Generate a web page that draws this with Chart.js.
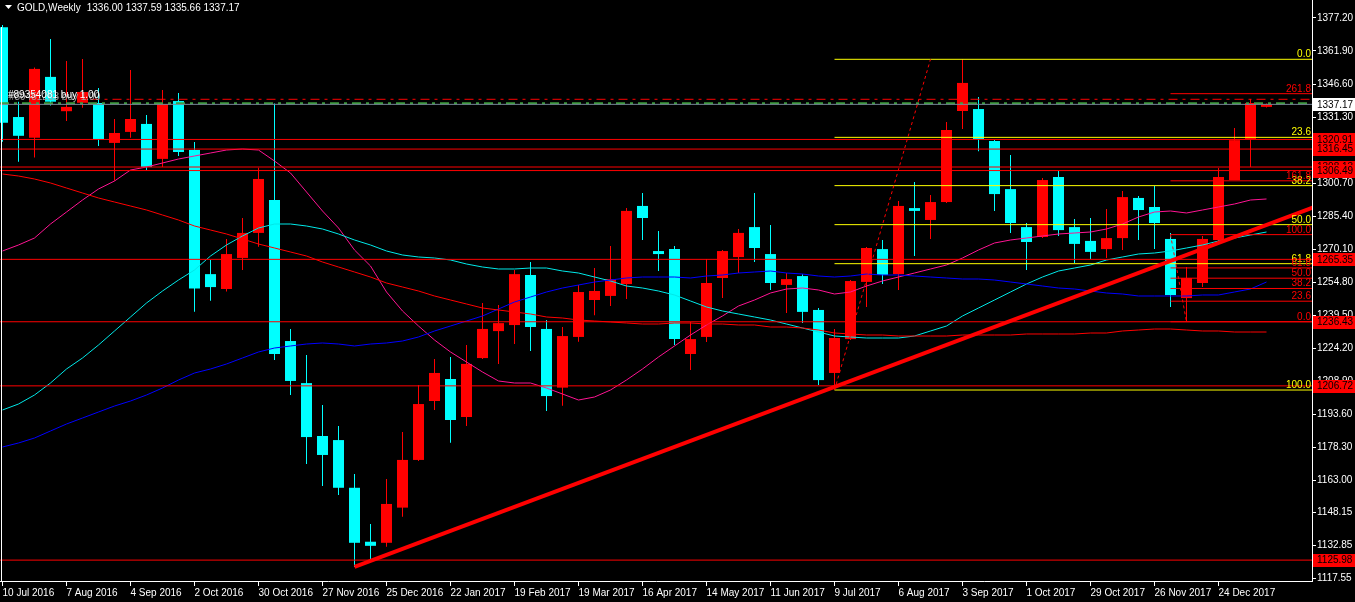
<!DOCTYPE html>
<html>
<head>
<meta charset="utf-8">
<script src="https://cdn.jsdelivr.net/npm/chart.js@4.4.1/dist/chart.umd.min.js"></script>
<style>
html,body{margin:0;padding:0;background:#000;overflow:hidden;}
canvas{display:block;}
</style>
</head>
<body>
<canvas id="chart" width="1355" height="602"></canvas>
<script>
const FONT_FAMILY = '"Liberation Sans Narrow","Liberation Sans","DejaVu Sans",sans-serif';
const FONT_SIZE = 10;

// ---- category / tick labels ----
const dateLabels = ['10 Jul 2016','7 Aug 2016','4 Sep 2016','2 Oct 2016','30 Oct 2016','27 Nov 2016','25 Dec 2016','22 Jan 2017','19 Feb 2017','19 Mar 2017','16 Apr 2017','14 May 2017','11 Jun 2017','9 Jul 2017','6 Aug 2017','3 Sep 2017','1 Oct 2017','29 Oct 2017','26 Nov 2017','24 Dec 2017'];
const dateTickBars = [0,4,8,12,16,20,24,28,32,36,40,44,48,52,56,60,64,68,72,76];
const priceTicks = [1377.20,1361.90,1346.60,1331.30,1316.00,1300.70,1285.40,1270.10,1254.80,1239.50,1224.20,1208.90,1193.60,1178.30,1163.00,1148.15,1132.85,1117.55];

// ---- weekly OHLC (bar 0 = week of 10 Jul 2016) ----
const opens = [1372.9,1331.3,1321.7,1349.9,1334.0,1337.9,1337.8,1319.3,1324.4,1328.1,
1311.9,1338.7,1316.0,1258.5,1251.6,1266.0,1277.6,1292.9,1227.5,1208.0,
1183.5,1181.6,1159.5,1134.5,1134.0,1150.3,1172.4,1199.7,1209.9,1192.3,
1219.6,1232.1,1234.9,1258.1,1233.1,1205.9,1229.4,1246.5,1248.4,1253.9,
1290.1,1269.2,1270.1,1221.5,1229.4,1256.7,1266.4,1280.3,1267.8,1253.5,
1257.6,1241.9,1212.7,1228.4,1254.9,1270.1,1258.5,1289.1,1283.6,1291.9,
1334.1,1335.0,1320.2,1297.9,1280.3,1275.7,1303.5,1280.3,1273.9,1270.1,
1275.2,1293.8,1289.6,1274.8,1247.4,1254.4,1274.3,1302.1,1321.1,1336.00];
const highs = [1373.9,1338.4,1354.2,1367.5,1357.3,1358.2,1344.7,1330.4,1353.1,1332.2,
1343.8,1342.4,1319.7,1265.0,1274.8,1284.5,1307.8,1337.6,1233.1,1221.0,
1197.9,1188.1,1165.9,1142.7,1163.6,1185.3,1207.1,1219.2,1220.1,1225.7,
1245.1,1244.2,1260.4,1264.1,1237.2,1234.0,1253.5,1261.3,1271.5,1289.1,
1296.1,1278.5,1271.5,1236.3,1265.5,1269.7,1279.4,1296.1,1281.3,1259.0,
1258.5,1242.8,1233.1,1255.8,1271.1,1274.3,1292.4,1301.2,1295.2,1329.0,
1358.05,1340.6,1320.6,1313.7,1282.2,1303.0,1306.3,1284.0,1284.5,1288.7,
1297.0,1294.7,1299.3,1277.6,1261.8,1276.2,1307.7,1326.2,1339.7,1337.59];
const lows = [1319.9,1310.6,1312.5,1336.6,1329.5,1335.6,1317.9,1301.8,1321.7,1306.8,
1308.1,1313.2,1241.1,1246.2,1250.4,1260.4,1271.2,1218.7,1202.5,1170.5,
1160.3,1156.1,1122.8,1126.0,1132.2,1146.1,1171.9,1195.5,1180.4,1188.1,
1219.2,1216.9,1226.1,1222.9,1195.1,1197.5,1227.2,1239.5,1243.7,1247.0,
1274.3,1259.9,1225.7,1214.1,1227.0,1247.4,1259.0,1264.1,1251.1,1240.5,
1235.9,1207.1,1204.8,1228.0,1243.3,1253.9,1251.1,1266.9,1274.8,1291.5,
1325.8,1315.5,1287.8,1277.6,1260.4,1275.2,1276.2,1263.7,1265.5,1266.0,
1269.7,1274.3,1270.1,1243.3,1236.43,1252.5,1273.4,1302.1,1308.1,1335.66];
const closes = [1328.7,1322.6,1353.6,1338.4,1336.0,1342.9,1321.1,1323.9,1330.4,1308.1,
1337.3,1315.1,1251.8,1252.5,1267.8,1277.6,1302.6,1221.5,1209.0,1183.0,
1174.7,1159.5,1134.0,1132.6,1152.0,1172.4,1198.3,1212.7,1190.9,1216.9,
1233.1,1235.8,1258.5,1234.0,1202.0,1229.8,1250.2,1250.7,1256.2,1287.8,
1284.5,1267.8,1228.4,1228.4,1254.4,1269.2,1277.6,1270.6,1254.4,1256.2,
1241.0,1209.4,1228.9,1255.3,1270.6,1258.1,1290.1,1287.8,1291.9,1325.3,
1347.1,1321.1,1295.6,1282.2,1273.4,1302.1,1278.9,1272.5,1268.8,1275.2,
1294.2,1288.2,1282.2,1248.8,1256.7,1274.8,1303.5,1320.6,1337.8,1337.17];

// ---- moving averages (read per bar) ----
const maPink = [1269.22,1272.00,1275.24,1281.73,1287.29,1292.85,1297.95,1301.66,1306.75,1308.14,
1310.00,1311.85,1313.24,1314.63,1316.02,1316.48,1316.02,1310.92,1305.36,1296.56,
1287.75,1279.88,1269.68,1262.27,1250.22,1241.42,1234.46,1227.98,1222.42,1217.78,
1213.15,1208.98,1208.05,1208.05,1205.73,1202.95,1200.17,1201.56,1204.81,1209.44,
1214.54,1220.10,1225.20,1230.29,1234.93,1239.10,1243.73,1246.51,1249.76,1251.61,
1252.07,1251.15,1249.29,1250.22,1253.00,1255.32,1257.17,1259.02,1260.88,1262.73,
1265.98,1269.68,1272.93,1274.32,1275.24,1276.17,1277.10,1277.56,1278.02,1279.41,
1281.73,1284.97,1287.29,1287.75,1286.83,1288.22,1289.61,1291.00,1292.85,1293.32];
const maCyan = [1195.54,1198.32,1202.49,1208.05,1214.54,1219.64,1225.66,1232.15,1238.64,1245.12,
1250.68,1255.78,1260.41,1266.90,1272.00,1276.17,1279.88,1281.73,1281.73,1280.80,
1279.41,1277.10,1274.32,1272.00,1269.22,1267.37,1266.44,1265.98,1265.05,1263.19,
1261.80,1260.88,1260.88,1261.34,1261.34,1259.95,1259.02,1257.17,1255.32,1253.00,
1252.07,1250.68,1248.83,1246.05,1243.27,1241.42,1240.03,1238.64,1237.24,1235.39,
1233.54,1231.68,1229.83,1229.37,1228.90,1228.90,1228.90,1229.83,1232.15,1234.46,
1239.10,1242.80,1246.51,1250.22,1253.93,1257.17,1259.95,1261.34,1262.73,1265.05,
1266.44,1267.83,1268.29,1269.22,1270.61,1272.00,1273.85,1275.24,1276.63,1278.02];
const maRed = [1304.90,1303.97,1302.58,1300.73,1298.41,1296.10,1293.78,1291.92,1290.07,1288.22,
1285.90,1283.58,1280.80,1278.95,1277.10,1274.78,1272.46,1270.61,1268.76,1266.90,
1264.12,1261.80,1259.49,1257.17,1254.39,1252.54,1250.68,1248.37,1246.51,1244.66,
1242.80,1241.88,1240.95,1240.03,1238.64,1238.17,1237.24,1236.78,1236.32,1235.86,
1235.39,1235.39,1235.86,1235.86,1235.39,1235.39,1234.93,1234.93,1234.00,1234.00,
1233.54,1232.61,1231.22,1230.76,1230.29,1230.29,1229.83,1229.83,1229.83,1229.83,
1230.29,1230.29,1230.29,1230.29,1230.76,1230.76,1230.76,1230.76,1231.22,1231.22,
1232.15,1232.61,1233.07,1233.07,1232.61,1232.15,1232.15,1231.68,1231.68,1231.68];
const maBlue = [1178.39,1180.25,1182.56,1185.81,1189.05,1191.83,1194.61,1197.39,1199.71,1202.49,
1205.73,1209.44,1212.68,1214.54,1216.86,1219.64,1222.42,1224.27,1225.20,1226.12,
1226.59,1226.12,1225.20,1226.12,1226.59,1227.51,1229.37,1232.15,1234.46,1236.78,
1239.10,1242.34,1245.59,1247.90,1250.22,1252.07,1253.46,1254.85,1255.78,1256.71,
1257.17,1257.17,1257.17,1256.71,1257.63,1258.10,1259.02,1259.49,1259.95,1259.02,
1258.56,1257.63,1257.17,1257.63,1258.56,1258.10,1258.10,1257.63,1257.17,1256.71,
1256.24,1256.24,1255.78,1254.85,1253.93,1253.00,1252.07,1251.61,1250.68,1249.76,
1249.29,1248.37,1248.37,1248.37,1248.37,1248.83,1248.83,1250.22,1251.61,1254.85];

// ---- drawn objects ----
const hLinePrices = [1320.91,1316.45,1308.13,1306.49,1265.35,1236.43,1206.72,1125.98];
const bidPrice = 1337.17;
const orderPrice = 1337.66;
const askDashPrice = 1339.52;
const fib1Levels = [0.0,23.6,38.2,50.0,61.8,100.0];
const fib1Prices = [1358.05,1321.88,1299.51,1281.43,1263.34,1204.80];
const fib2Levels = [0.0,23.6,38.2,50.0,61.8,100.0,161.8,261.8];
const fib2Prices = [1236.43,1245.96,1251.85,1256.62,1261.38,1276.80,1301.75,1342.12];
const fibStartBars = [52,73];
const fib1RayBars = [52,58], fib1RayPrices = [1204.80,1358.05];
const fib2RayBars = [73,74], fib2RayPrices = [1276.80,1236.43];
const trendBars = [22,82], trendPrices = [1122.9,1289.6];

// ---- scale extents ----
const X_MIN = -0.15625, X_MAX = 81.84375;
const Y_MIN = 1116.30, Y_MAX = 1385.53;

const bars = opens.map((_, i) => i);
const candleColors = bars.map(i => closes[i] >= opens[i] ? '#FF0000' : '#00FFFF');

function levelLine(x0, x1, p, color, width, dash, order) {
  return { type:'line', data:[{x:x0,y:p},{x:x1,y:p}], borderColor:color, borderWidth:width,
           borderDash:dash || [], pointRadius:0, fill:false, tension:0, order:order };
}
function maLine(values, color) {
  return { type:'line', data: bars.map(i => ({x:i, y:values[i]})), borderColor:color, borderWidth:1,
           pointRadius:0, fill:false, tension:0, order:8 };
}

const datasets = [
  { type:'bar', data: bars.map(i => ({x:i, y:[lows[i], highs[i]]})), backgroundColor:candleColors,
    barThickness:1, grouped:false, inflateAmount:0, borderWidth:0, order:20 },
  { type:'bar', data: bars.map(i => ({x:i, y:[opens[i], closes[i]]})), backgroundColor:candleColors,
    barThickness:11, grouped:false, inflateAmount:0, borderWidth:0, minBarLength:1, order:19 },
  maLine(maRed, '#FF0000'),
  maLine(maBlue, '#0000FF'),
  maLine(maCyan, '#00E8E8'),
  maLine(maPink, '#FF1493'),
];
hLinePrices.forEach(p => datasets.push(levelLine(X_MIN, X_MAX, p, '#FF0000', 1, null, 6)));
datasets.push(levelLine(5.5, X_MAX, askDashPrice, '#FF0000', 1, [9,5,3,5], 6));
datasets.push(levelLine(X_MIN, X_MAX, orderPrice, '#3C9C3C', 2, [9,5,3,5], 6));
datasets.push(levelLine(X_MIN, X_MAX, bidPrice, '#778899', 1, null, 5));
fib1Prices.forEach(p => datasets.push(levelLine(fibStartBars[0], X_MAX, p, '#FFFF00', 1, null, 4)));
fib2Prices.forEach(p => datasets.push(levelLine(fibStartBars[1], X_MAX, p, '#FF0000', 1, null, 4)));
datasets.push({ type:'line', data: trendBars.map((b,k)=>({x:b, y:trendPrices[k]})), borderColor:'#FF0000',
  borderWidth:4, pointRadius:0, fill:false, tension:0, order:2 });
datasets.push({ type:'line', data: fib1RayBars.map((b,k)=>({x:b, y:fib1RayPrices[k]})), borderColor:'#FF0000',
  borderWidth:1, borderDash:[3,3], pointRadius:0, fill:false, tension:0, order:1 });
datasets.push({ type:'line', data: fib2RayBars.map((b,k)=>({x:b, y:fib2RayPrices[k]})), borderColor:'#FF0000',
  borderWidth:1, borderDash:[3,3], pointRadius:0, fill:false, tension:0, order:1 });

const overlay = {
  id:'overlay',
  beforeDraw(chart) {
    const c = chart.ctx; c.save(); c.fillStyle = '#000'; c.fillRect(0,0,chart.width,chart.height); c.restore();
  },
  afterDatasetsDraw(chart) {
    const ctx = chart.ctx, y = chart.scales.y, area = chart.chartArea;
    ctx.save();
    ctx.font = FONT_SIZE + 'px ' + FONT_FAMILY;
    ctx.textAlign = 'right'; ctx.textBaseline = 'alphabetic';
    fib1Levels.forEach((l,k) => { ctx.fillStyle = '#FFFF00'; ctx.fillText(l.toFixed(1), area.right - 1, y.getPixelForValue(fib1Prices[k]) - 2); });
    fib2Levels.forEach((l,k) => { ctx.fillStyle = '#FF0000'; ctx.fillText(l.toFixed(1), area.right - 1, y.getPixelForValue(fib2Prices[k]) - 2); });
    // left border
    ctx.fillStyle = '#FFFFFF'; ctx.fillRect(1, 27, 1, area.bottom - 27);
    // order labels
    ctx.textAlign = 'left';
    ctx.fillStyle = '#A0A0A0'; ctx.fillText('#89451283 buy 1.00', 9, 100);
    ctx.fillStyle = '#FFFFFF'; ctx.fillText('#89354081 buy 1.00', 8, 98);
    // title
    ctx.beginPath(); ctx.moveTo(5,5); ctx.lineTo(12,5); ctx.lineTo(8.5,9); ctx.closePath(); ctx.fill();
    const t1 = 'GOLD,Weekly';
    ctx.fillText(t1, 17, 11);
    ctx.fillText('1336.00 1337.59 1335.66 1337.17', 17 + ctx.measureText(t1).width + 6, 11);
    ctx.restore();
  },
  afterDraw(chart) {
    const ctx = chart.ctx, y = chart.scales.y;
    ctx.save();
    ctx.font = FONT_SIZE + 'px ' + FONT_FAMILY;
    ctx.textAlign = 'left'; ctx.textBaseline = 'middle';
    const box = (p, bg, fg) => {
      const py = y.getPixelForValue(p);
      ctx.fillStyle = bg; ctx.fillRect(1313, Math.round(py - 6), 42, 13);
      ctx.fillStyle = fg; ctx.fillText(p.toFixed(2), 1317, py + 0.5);
    };
    hLinePrices.forEach(p => box(p, '#FF0000', '#000000'));
    box(bidPrice, '#FFFFFF', '#000000');
    ctx.restore();
  }
};

new Chart(document.getElementById('chart'), {
  type:'bar',
  data:{ datasets },
  options:{
    responsive:false, animation:false, devicePixelRatio:1,
    layout:{ padding:0, autoPadding:false },
    plugins:{ legend:{display:false}, tooltip:{enabled:false} },
    scales:{
      x:{ type:'linear', position:'bottom', min:X_MIN, max:X_MAX, offset:false,
          afterBuildTicks: s => { s.ticks = dateTickBars.map(v => ({value:v})); },
          afterFit: s => { s.height = 21; s.paddingLeft = 0; s.paddingRight = 0; },
          ticks:{ color:'#FFFFFF', font:{family:FONT_FAMILY, size:FONT_SIZE}, align:'start', autoSkip:false,
                  maxRotation:0, minRotation:0, padding:1,
                  callback: v => { const k = dateTickBars.indexOf(v); return k >= 0 ? dateLabels[k] : ''; } },
          grid:{ display:true, offset:false, drawOnChartArea:false, drawTicks:true, tickLength:5, color:'#FFFFFF' },
          border:{ display:true, color:'#FFFFFF', width:1 } },
      y:{ type:'linear', position:'right', min:Y_MIN, max:Y_MAX,
          afterBuildTicks: s => { s.ticks = priceTicks.map(v => ({value:v})); },
          afterFit: s => { s.width = 43; s.paddingTop = 0; s.paddingBottom = 0; },
          ticks:{ color:'#FFFFFF', font:{family:FONT_FAMILY, size:FONT_SIZE}, autoSkip:false, padding:1,
                  callback: v => Number(v).toFixed(2) },
          grid:{ display:true, drawOnChartArea:false, drawTicks:true, tickLength:4, color:'#FFFFFF' },
          border:{ display:true, color:'#FFFFFF', width:1 } }
    }
  },
  plugins:[overlay]
});
</script>
</body>
</html>
